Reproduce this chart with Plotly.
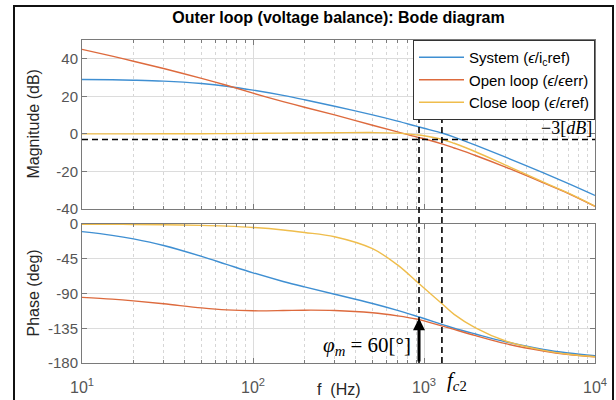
import math
import plotly.graph_objects as go

# ---------------- data ----------------
freq_hz = [10, 15, 20, 30, 50, 70, 100, 150, 200, 300, 500, 700, 900, 1000,
           1300, 1500, 2000, 3000, 5000, 7000, 10000]
sys_mag_db = [29.0, 28.8, 28.6, 28.1, 26.8, 25.4, 23.3, 20.5, 18.2, 14.7, 10.1,
              6.8, 4.1, 3.0, 0.2, -1.7, -6.0, -12.4, -20.8, -26.5, -32.8]
open_mag_db = [45.0, 41.4, 38.7, 34.8, 29.6, 25.9, 21.7, 17.2, 14.2, 10.1, 4.6,
               1.1, -1.6, -2.6, -5.6, -7.5, -11.5, -17.7, -26.1, -31.8, -38.6]
close_mag_db = [0.0, 0.0, 0.0, 0.05, 0.1, 0.15, 0.25, 0.4, 0.5, 0.6, 0.7, 0.4,
                -0.5, -1.0, -3.1, -5.0, -9.5, -16.6, -25.7, -31.6, -38.5]
sys_phase_deg = [-9.9, -14.7, -19.3, -27.8, -41.9, -52.3, -63.2, -74.4, -81.5,
                 -90.9, -103.0, -111.9, -119.2, -122.4, -130.6, -135.0, -142.5,
                 -152.5, -162.5, -167.0, -170.5]
open_phase_deg = [-95.0, -97.3, -99.5, -103.3, -108.6, -111.2, -112.4, -112.1,
                  -111.6, -112.0, -115.0, -119.0, -123.0, -125.5, -132.5, -136.5,
                  -144.5, -155.0, -164.5, -169.0, -172.0]
close_phase_deg = [-0.3, -0.45, -0.66, -1.0, -1.8, -2.8, -4.5, -7.7, -11.0, -16.5,
                   -32.0, -53.0, -74.0, -83.0, -105.0, -117.0, -134.5, -151.5,
                   -163.7, -168.7, -171.9]

series_names = ["System (<i>ϵ</i>/i<sub>c</sub>ref)",
                "Open loop (<i>ϵ</i>/<i>ϵ</i>err)",
                "Close loop (<i>ϵ</i>/<i>ϵ</i>ref)"]
colors = ["#3f8fd2", "#dd6a3d", "#efbd4c"]

mag_ticks = [-40, -20, 0, 20, 40]
mag_ticktext = ["-40", "-20", "0", "20", "40"]
phase_ticks = [-180, -135, -90, -45, 0]
phase_ticktext = ["-180", "-135", "-90", "-45", "0"]
x_tickvals = [10, 100, 1000, 10000]
x_ticktext = ["10<sup>1</sup>", "10<sup>2</sup>", "10<sup>3</sup>", "10<sup>4</sup>"]

FC1 = 935      # phase-margin frequency (Hz)
FC2 = 1273     # -3 dB bandwidth f_c2 (Hz)
MINUS3 = -3
PM_PHASE = -122

# ---------------- figure ----------------
W, H = 616, 400
L, R, T, B = 82, 21, 40, 37
ph = H - T - B


def py(p):  # pixel y -> paper y
    return (H - B - p) / ph


def px(p):
    return (p - L) / (W - L - R)


fig = go.Figure()
mags = [sys_mag_db, open_mag_db, close_mag_db]
phs = [sys_phase_deg, open_phase_deg, close_phase_deg]
for i in range(3):
    fig.add_trace(go.Scatter(x=freq_hz, y=mags[i], mode="lines", name=series_names[i],
                             line=dict(color=colors[i], width=1.4, shape="spline"),
                             xaxis="x", yaxis="y"))
for i in range(3):
    fig.add_trace(go.Scatter(x=freq_hz, y=phs[i], mode="lines", showlegend=False,
                             line=dict(color=colors[i], width=1.4, shape="spline"),
                             xaxis="x2", yaxis="y2"))

axcol = "#7a7a7a"
tickfont = dict(family="Liberation Sans, Arial", size=15, color="#555555")
xtickfont = dict(family="Liberation Sans, Arial", size=16, color="#555555")
xcommon = dict(type="log", range=[1, 4], showline=True, linecolor=axcol, linewidth=1,
               mirror="allticks", ticks="inside", ticklen=5, tickcolor=axcol,
               showgrid=True, gridcolor="#dcdcdc", gridwidth=1, zeroline=False,
               tickvals=x_tickvals, ticktext=x_ticktext, automargin=False,
               minor=dict(dtick="D1", ticks="inside", ticklen=3, tickcolor=axcol,
                          showgrid=True, gridcolor="#d6d6d6", griddash="dot"))
ycommon = dict(showline=True, linecolor=axcol, linewidth=1, mirror="allticks",
               ticks="inside", ticklen=5, tickcolor=axcol, showgrid=True,
               gridcolor="#dcdcdc", zeroline=False, tickfont=tickfont,
               automargin=False)

top_dom = [py(209), 1.0]
bot_dom = [0.0, py(224)]

fig.update_layout(
    width=W, height=H, margin=dict(l=L, r=R, t=T, b=B, autoexpand=False),
    paper_bgcolor="white", plot_bgcolor="white",
    font=dict(family="Liberation Sans, Arial", color="#000000"),
    title=dict(text="<b>Outer loop (voltage balance): Bode diagram</b>",
               x=px(338.5), xref="paper", xanchor="center",
               y=1 - 17 / H, yanchor="middle", automargin=False,
               font=dict(family="Liberation Sans, Arial", size=16, color="#000000")),
    xaxis=dict(**xcommon, anchor="y", showticklabels=False),
    yaxis=dict(**ycommon, domain=top_dom, range=[-40, 50], tickvals=mag_ticks,
               ticktext=mag_ticktext),
    xaxis2=dict(**xcommon, anchor="y2", showticklabels=True, tickfont=xtickfont,
                ticklabelstandoff=10),
    yaxis2=dict(**ycommon, domain=bot_dom, range=[-180, 0], tickvals=phase_ticks,
                ticktext=phase_ticktext),
    legend=dict(x=1, y=1, xanchor="right", yanchor="top", xref="paper", yref="paper",
                bgcolor="white", bordercolor="#333333", borderwidth=1,
                font=dict(family="Liberation Sans, Arial", size=15, color="#000000"),
                tracegroupgap=0, itemwidth=45),
    showlegend=True,
)

dash = "6px,4px"
shapes = [
    dict(type="line", xref="paper", yref="y", x0=0, x1=1, y0=MINUS3, y1=MINUS3,
         line=dict(color="black", width=1.6, dash=dash)),
]
for fc in (FC1, FC2):
    xp = (math.log10(fc) - 1) / 3
    shapes.append(dict(type="line", xref="paper", yref="paper", x0=xp, x1=xp,
                       y0=0, y1=py(113), line=dict(color="black", width=1.6, dash=dash)))
# outer frame
shapes.append(dict(type="rect", xref="paper", yref="paper", x0=px(14), x1=px(613),
                   y0=py(403), y1=py(6), line=dict(color="#111111", width=2),
                   fillcolor="rgba(0,0,0,0)", layer="above"))
fig.update_layout(shapes=shapes)

ann = [
    dict(text="Magnitude (dB)", xref="paper", yref="paper", x=px(33),
         y=(top_dom[0] + top_dom[1]) / 2, textangle=-90, showarrow=False,
         font=dict(size=16, color="#262626"), xanchor="center", yanchor="middle"),
    dict(text="Phase (deg)", xref="paper", yref="paper", x=px(33),
         y=(bot_dom[0] + bot_dom[1]) / 2, textangle=-90, showarrow=False,
         font=dict(size=16, color="#262626"), xanchor="center", yanchor="middle"),
    dict(text="f\u00a0 (Hz)", xref="paper", yref="paper", x=0.5, y=py(389),
         showarrow=False, font=dict(size=16, color="#262626"),
         xanchor="center", yanchor="middle"),
    dict(text="−3[<i>dB</i>]", xref="paper", yref="paper", x=px(594), y=py(128),
         showarrow=False, xanchor="right", yanchor="middle",
         font=dict(family="Liberation Serif, DejaVu Serif", size=18, color="black")),
    dict(text="<i>φ</i><sub><i>m</i></sub> = 60[°]", xref="paper", yref="paper",
         x=px(413), y=py(346), showarrow=False, xanchor="right", yanchor="middle",
         font=dict(family="Liberation Serif, DejaVu Serif", size=21, color="black")),
    dict(text="<i>f</i><sub><i>c</i>2</sub>", xref="paper", yref="paper",
         x=px(445), y=py(381), showarrow=False, xanchor="left", yanchor="middle",
         font=dict(family="Liberation Serif, DejaVu Serif", size=21, color="black")),
    dict(text="", xref="x2", yref="y2", x=math.log10(FC1), y=PM_PHASE,
         axref="x2", ayref="y2", ax=math.log10(FC1), ay=-180, showarrow=True,
         arrowhead=2, arrowsize=0.8, arrowwidth=3, arrowcolor="black"),
]
fig.update_layout(annotations=ann)

fig.write_html("out.html")
